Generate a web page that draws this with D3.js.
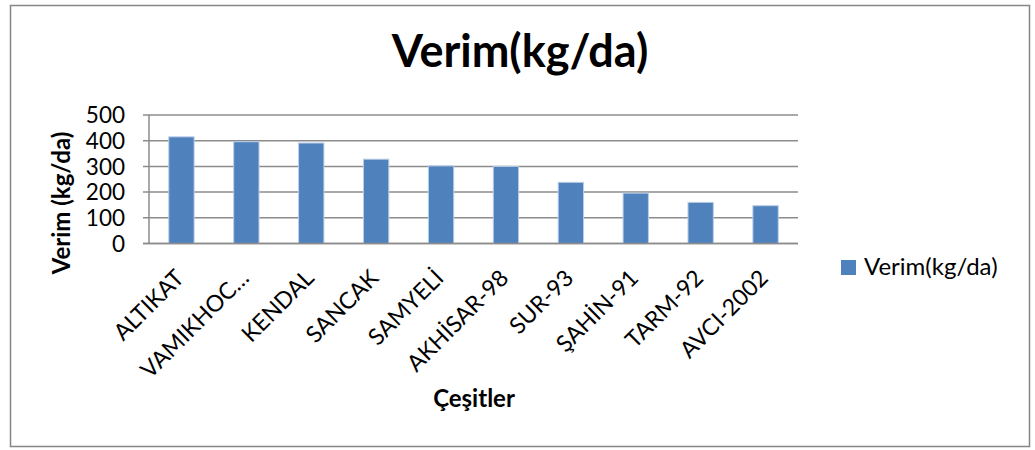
<!DOCTYPE html>
<html>
<head>
<meta charset="utf-8">
<script src="https://cdn.jsdelivr.net/npm/d3@7"></script>
<style>
  body { margin: 0; background: #fff; }
  text { font-family: Lato, "Open Sans", sans-serif; fill: #000; }
</style>
</head>
<body>
<div id="chart"></div>
<script>
// data
const categories = ["ALTIKAT", "VAMIKHOC…", "KENDAL", "SANCAK", "SAMYELİ", "AKHİSAR-98", "SUR-93", "ŞAHİN-91", "TARM-92", "AVCI-2002"];
const values = [415, 396, 391, 328, 302, 300, 238, 196, 160, 147];
const yTicks = [0, 100, 200, 300, 400, 500];
const seriesName = "Verim(kg/da)";

const size = { width: 1035, height: 450 };
const plot = { left: 149, right: 798, top: 115, bottom: 243.5 };

const svg = d3.select("#chart")
  .append("svg")
  .attr("width", size.width)
  .attr("height", size.height);

// outer frame
svg.append("rect")
  .attr("x", 10.5).attr("y", 5.5)
  .attr("width", 1019).attr("height", 441)
  .attr("fill", "#fff")
  .attr("stroke", "#868686")
  .attr("stroke-width", 1.5);

//scales
const x = d3.scaleBand()
  .domain(categories)
  .range([plot.left, plot.right])
  .paddingInner(0.61)
  .paddingOuter(0.305);

const y = d3.scaleLinear()
  .domain([0, 500])
  .range([plot.bottom, plot.top]);

// gridlines
svg.append("g")
  .selectAll("line")
  .data(yTicks)
  .enter().append("line")
    .attr("x1", plot.left - 6)
    .attr("x2", plot.right)
    .attr("y1", d => y(d))
    .attr("y2", d => y(d))
    .attr("stroke", "#8c8c8c")
    .attr("stroke-width", 1.5);

// y axis line
svg.append("line")
  .attr("x1", plot.left).attr("x2", plot.left)
  .attr("y1", plot.top).attr("y2", plot.bottom)
  .attr("stroke", "#8c8c8c")
  .attr("stroke-width", 1.5);

// bars
svg.append("g")
  .selectAll("rect")
  .data(values)
  .enter().append("rect")
    .attr("x", (d, i) => x(categories[i]))
    .attr("y", d => y(d))
    .attr("width", x.bandwidth())
    .attr("height", d => y(0) - y(d))
    .attr("fill", "#4f81bd")
    .attr("stroke", "#b9cde5")
    .attr("stroke-width", 1);

// redraw baseline over bars
svg.append("line")
  .attr("x1", plot.left - 6).attr("x2", plot.right)
  .attr("y1", y(0)).attr("y2", y(0))
  .attr("stroke", "#8c8c8c")
  .attr("stroke-width", 1.5);

// y tick labels
svg.append("g")
  .selectAll("text")
  .data(yTicks)
  .enter().append("text")
    .attr("x", plot.left - 24)
    .attr("y", d => y(d))
    .attr("dy", "0.36em")
    .attr("text-anchor", "end")
    .style("font-size", "22.5px")
    .text(d => d);

// x tick labels, rotated
svg.append("g")
  .selectAll("text")
  .data(categories)
  .enter().append("text")
    .attr("transform", d => "translate(" + (x(d) + x.bandwidth() / 2 + 4) + "," + (plot.bottom + 36) + ") rotate(-45)")
    .attr("text-anchor", "end")
    .style("font-size", "23px")
    .text(d => d);

// title
svg.append("text")
  .attr("x", 520)
  .attr("y", 67)
  .attr("text-anchor", "middle")
  .style("font-size", "45px")
  .style("font-weight", "bold")
  .text("Verim(kg/da)");

// axis titles
svg.append("text")
  .attr("transform", "translate(70,203) rotate(-90)")
  .attr("text-anchor", "middle")
  .style("font-size", "24px")
  .style("font-weight", "bold")
  .text("Verim (kg/da)");

svg.append("text")
  .attr("x", 474)
  .attr("y", 407)
  .attr("text-anchor", "middle")
  .style("font-size", "24px")
  .style("font-weight", "bold")
  .text("Çeşitler");

// legend
const legend = svg.append("g");
legend.append("rect")
  .attr("x", 841).attr("y", 260)
  .attr("width", 15).attr("height", 15)
  .attr("fill", "#4f81bd");
legend.append("text")
  .attr("x", 864).attr("y", 275)
  .style("font-size", "24px")
  .text(seriesName);
</script>
</body>
</html>
